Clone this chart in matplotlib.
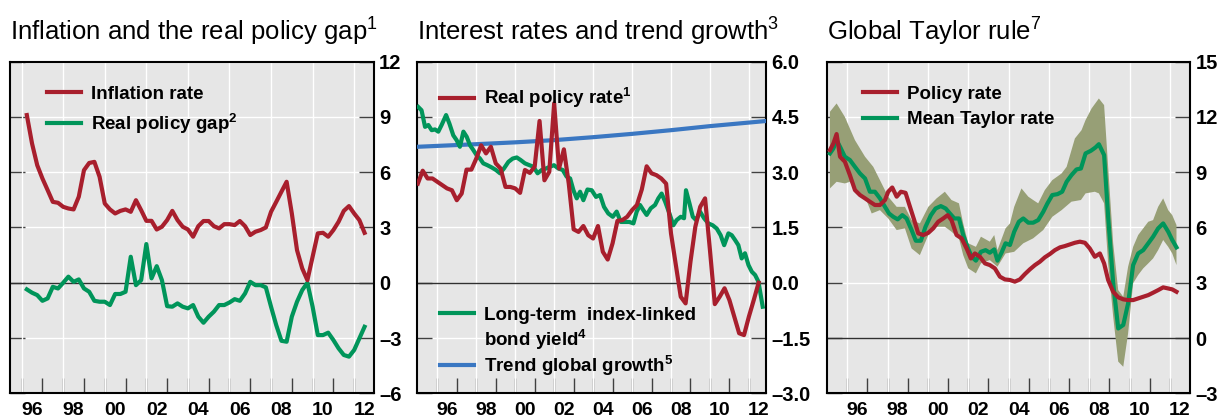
import matplotlib
matplotlib.use("Agg")
import matplotlib.pyplot as plt
import numpy as np
from matplotlib.lines import Line2D
from matplotlib.ticker import FuncFormatter

plt.rcParams['font.family'] = ['Liberation Sans', 'DejaVu Sans']
plt.rcParams['font.weight'] = 'bold'
plt.rcParams['mathtext.fontset'] = 'custom'
plt.rcParams['mathtext.rm'] = 'Liberation Sans:weight=normal'
plt.rcParams['mathtext.bf'] = 'Liberation Sans:weight=bold'

RED = '#a81f2d'
GREEN = '#00955a'
BLUE = '#3a77c2'
BAND = '#979f76'
BG = '#e6e6e6'

# ---- panel 1: inflation and real policy gap (quarterly, from 1996Q2)
inflation = [9.1, 7.56, 6.38, 5.66, 5.03, 4.39, 4.34, 4.12, 4.03, 3.98,
             4.67, 6.11, 6.5, 6.56, 5.75, 4.3, 3.98, 3.76, 3.9, 3.98,
             3.85, 4.48, 3.94, 3.36, 3.36, 2.89, 3.04, 3.4, 3.9, 3.4,
             3.04, 2.89, 2.5, 3.07, 3.35, 3.35, 3.07, 2.95, 3.18, 3.18,
             3.13, 3.35, 3.07, 2.59, 2.77, 2.86, 3.0, 3.85, 4.39, 4.94,
             5.48, 3.76, 1.77, 0.78, 0.14, 1.41, 2.68, 2.71, 2.5, 2.86,
             3.31, 3.9, 4.16, 3.76, 3.4, 2.71]
policy_gap = [-0.36, -0.54, -0.67, -0.98, -0.85, -0.22, -0.31, 0.0, 0.33, 0.05,
              0.18, -0.31, -0.49, -0.98, -1.03, -1.03, -1.21, -0.61, -0.61, -0.49,
              1.41, -0.13, 0.14, 2.1, 0.24, 0.9, 0.14, -1.27, -1.3, -1.12,
              -1.3, -1.39, -1.21, -1.84, -2.17, -1.84, -1.57, -1.21, -1.21, -1.07,
              -0.89, -0.98, -0.58, 0.05, -0.13, -0.13, -0.25, -1.3, -2.3, -3.15,
              -3.2, -1.84, -1.03, -0.4, 0.0, -1.3, -2.84, -2.84, -2.71, -3.11,
              -3.56, -3.92, -4.01, -3.65, -3.02, -2.39]
quarters1 = 1996.25 + 0.25 * np.arange(len(inflation))

# ---- panel 2: interest rates and trend growth
real_policy = [2.69, 3.04, 2.83, 2.83, 2.74, 2.65, 2.56, 2.51, 2.24, 2.42,
               3.07, 3.07, 3.37, 3.73, 3.51, 3.69, 3.24, 3.1, 2.6, 2.6,
               2.56, 2.44, 3.06, 2.98, 3.15, 4.39, 2.78, 3.01, 4.87, 3.1,
               3.62, 2.69, 1.45, 1.38, 1.54, 1.29, 1.2, 1.54, 0.84, 0.63,
               1.07, 1.68, 1.7, 1.79, 1.97, 2.11, 2.53, 3.16, 2.97, 2.92,
               2.83, 2.69, 1.34, 0.48, -0.38, -0.56, 0.57, 1.52, 2.06, 2.29,
               0.89, -0.58, -0.38, -0.15, -0.47, -0.92, -1.37, -1.42, -0.92, -0.47,
               0.0]
quarters2 = 1995.0 + 0.25 * np.arange(len(real_policy))

bond_years = [1995.02, 1995.19, 1995.37, 1995.54, 1995.71, 1995.88, 1996.05, 1996.22,
              1996.45, 1996.62, 1996.82, 1996.99, 1997.16, 1997.34, 1997.51, 1997.68,
              1997.85, 1998.02, 1998.19, 1998.36, 1998.57, 1998.79, 1999.01, 1999.22,
              1999.42, 1999.65, 1999.87, 2000.08, 2000.28, 2000.5, 2000.73, 2000.93,
              2001.15, 2001.36, 2001.58, 2001.79, 2001.99, 2002.22, 2002.44, 2002.64,
              2002.82, 2002.99, 2003.16, 2003.33, 2003.5, 2003.71, 2003.93, 2004.15,
              2004.36, 2004.56, 2004.78, 2005.01, 2005.21, 2005.42, 2005.64, 2005.86,
              2006.07, 2006.24, 2006.41, 2006.58, 2006.75, 2006.96, 2007.18, 2007.35,
              2007.52, 2007.7, 2007.92, 2008.12, 2008.29, 2008.5, 2008.67, 2008.77,
              2008.95, 2009.12, 2009.29, 2009.49, 2009.7, 2009.92, 2010.14, 2010.35,
              2010.55, 2010.73, 2010.95, 2011.12, 2011.29, 2011.46, 2011.63, 2011.8,
              2011.98, 2012.15, 2012.32, 2012.49, 2012.71]
bond_yield = [4.77, 4.68, 4.23, 4.28, 4.14, 4.16, 4.1, 4.28,
              4.55, 4.32, 4.0, 3.87, 3.69, 4.1, 3.96, 3.73,
              3.6, 3.46, 3.37, 3.24, 3.19, 3.13, 3.06, 2.97,
              3.1, 3.28, 3.37, 3.4, 3.33, 3.24, 3.19, 3.15,
              2.97, 3.06, 3.1, 3.15, 3.19, 3.1, 3.06, 2.88,
              2.83, 2.51, 2.29, 2.47, 2.24, 2.53, 2.51, 2.33,
              2.38, 2.06, 1.88, 1.79, 1.93, 1.65, 1.65, 1.65,
              1.61, 1.93, 2.11, 1.97, 1.84, 2.02, 2.11, 2.29,
              2.42, 2.2, 1.88, 1.56, 1.7, 1.79, 1.75, 2.51,
              2.15, 1.79, 1.7, 1.93, 1.75, 1.61, 1.56, 1.47,
              1.29, 1.02, 1.34, 1.29, 1.16, 1.02, 0.66, 0.8,
              0.48, 0.3, 0.21, 0.03, -0.65]

trend_years = [1995.0, 1998.0, 2000.0, 2002.0, 2004.0, 2006.0, 2008.0, 2010.0, 2012.9]
trend_growth = [3.69, 3.76, 3.81, 3.87, 3.95, 4.04, 4.14, 4.25, 4.39]

# ---- panel 3: global Taylor rule
policy_years = [1995.14, 1995.31, 1995.47, 1995.64, 1995.88, 1996.13, 1996.38, 1996.63,
                1996.88, 1997.12, 1997.37, 1997.62, 1997.87, 1998.03, 1998.23, 1998.45,
                1998.66, 1998.89, 1999.11, 1999.32, 1999.52, 1999.77, 2000.02, 2000.26,
                2000.51, 2000.76, 2000.98, 2001.17, 2001.42, 2001.67, 2001.92, 2002.13,
                2002.33, 2002.58, 2002.83, 2003.07, 2003.32, 2003.57, 2003.82, 2004.07,
                2004.31, 2004.56, 2004.81, 2005.06, 2005.31, 2005.55, 2005.8, 2006.05,
                2006.3, 2006.55, 2006.79, 2007.04, 2007.29, 2007.54, 2007.79, 2008.03,
                2008.28, 2008.53, 2008.74, 2008.94, 2009.19, 2009.44, 2009.69, 2009.93,
                2010.18, 2010.43, 2010.68, 2010.93, 2011.17, 2011.42, 2011.67, 2011.92,
                2012.12, 2012.33]
policy_rate = [10.2, 10.56, 11.07, 9.84, 9.57, 8.84, 8.03, 7.76,
               7.58, 7.4, 7.22, 7.22, 7.49, 7.94, 8.17, 7.67,
               7.94, 7.88, 7.12, 6.4, 5.68, 5.59, 5.71, 5.95,
               6.31, 6.49, 6.67, 6.4, 5.59, 5.41, 4.86, 4.32,
               4.59, 4.41, 4.05, 3.96, 3.78, 3.33, 3.18, 3.15,
               3.06, 3.18, 3.47, 3.73, 3.96, 4.14, 4.38, 4.56,
               4.77, 4.92, 4.99, 5.08, 5.17, 5.23, 5.17, 4.86,
               4.41, 4.59, 4.05, 3.15, 2.51, 2.21, 2.1, 2.06,
               2.06, 2.15, 2.24, 2.33, 2.46, 2.6, 2.75, 2.69,
               2.64, 2.51]

taylor_years = [1995.14, 1995.31, 1995.47, 1995.68, 1995.88, 1996.13, 1996.38, 1996.63,
                1996.88, 1997.12, 1997.37, 1997.62, 1997.87, 1998.07, 1998.28, 1998.5,
                1998.73, 1998.94, 1999.19, 1999.4, 1999.65, 1999.88, 2000.15, 2000.38,
                2000.64, 2000.88, 2001.09, 2001.31, 2001.54, 2001.75, 2001.96, 2002.17,
                2002.38, 2002.63, 2002.86, 2003.07, 2003.29, 2003.45, 2003.65, 2003.85,
                2004.07, 2004.28, 2004.51, 2004.73, 2004.98, 2005.22, 2005.47, 2005.72,
                2005.93, 2006.17, 2006.43, 2006.66, 2006.88, 2007.12, 2007.37, 2007.59,
                2007.82, 2008.08, 2008.31, 2008.48, 2008.74, 2008.94, 2009.19, 2009.44,
                2009.69, 2009.93, 2010.18, 2010.43, 2010.68, 2010.93, 2011.17, 2011.42,
                2011.67, 2011.92, 2012.12, 2012.33]
taylor_rate = [10.02, 10.29, 10.74, 10.29, 9.84, 9.66, 9.29, 8.93,
               8.66, 7.94, 7.94, 7.58, 7.12, 6.76, 6.58, 6.44,
               6.67, 6.49, 5.86, 5.28, 5.28, 6.04, 6.67, 7.03,
               7.16, 7.03, 6.76, 6.49, 6.49, 5.59, 4.95, 4.41,
               4.2, 4.68, 4.77, 4.63, 4.81, 4.2, 4.63, 5.14,
               5.05, 5.77, 6.31, 6.49, 6.26, 6.26, 6.4, 6.85,
               7.31, 7.76, 7.81, 7.94, 8.48, 8.84, 9.15, 9.2,
               10.02, 10.16, 10.34, 10.52, 9.93, 6.58, 2.97, 0.52,
               0.71, 1.88, 3.96, 4.59, 4.77, 5.14, 5.5, 5.95,
               6.22, 5.77, 5.32, 4.92]

band_hi_years = [1995.14, 1995.47, 1995.88, 1996.38, 1996.88, 1997.29, 1997.62, 1998.03,
                 1998.45, 1998.86, 1999.19, 1999.6, 2000.02, 2000.43, 2000.84, 2001.17,
                 2001.54, 2001.75, 2002.0, 2002.38, 2002.63, 2003.07, 2003.29, 2003.45,
                 2003.85, 2004.07, 2004.28, 2004.64, 2004.98, 2005.22, 2005.47, 2005.8,
                 2006.17, 2006.63, 2006.88, 2007.29, 2007.62, 2007.82, 2008.12, 2008.48,
                 2008.74, 2008.94, 2009.19, 2009.44, 2009.69, 2009.93, 2010.18, 2010.43,
                 2010.68, 2010.93, 2011.17, 2011.42, 2011.67, 2011.92, 2012.12, 2012.33]
band_hi = [12.28, 12.73, 12.0, 10.74, 9.84, 9.29, 8.57, 7.67,
           7.12, 7.12, 6.4, 6.22, 7.12, 7.58, 7.94, 7.49,
           7.31, 6.22, 5.14, 4.95, 5.5, 5.23, 5.59, 4.77,
           5.95, 6.22, 7.12, 8.12, 7.67, 7.49, 7.31, 8.03,
           8.57, 8.93, 9.29, 10.83, 11.28, 11.83, 12.46, 13.0,
           12.64, 9.29, 5.14, 2.6, 2.24, 3.87, 4.95, 5.59,
           5.95, 6.31, 6.4, 7.12, 7.58, 6.94, 6.67, 6.13]
band_lo_years = [1995.14, 1995.47, 1995.88, 1996.13, 1996.38, 1996.88, 1997.21, 1997.62,
                 1998.03, 1998.45, 1998.86, 1999.19, 1999.6, 2000.02, 2000.43, 2000.84,
                 2001.17, 2001.54, 2001.75, 2002.0, 2002.38, 2002.63, 2003.07, 2003.45,
                 2003.85, 2004.28, 2004.73, 2005.22, 2005.72, 2006.17, 2006.63, 2007.12,
                 2007.59, 2007.82, 2008.28, 2008.48, 2008.74, 2008.94, 2009.19, 2009.44,
                 2009.69, 2009.93, 2010.18, 2010.43, 2010.68, 2010.93, 2011.17, 2011.42,
                 2011.67, 2011.92, 2012.12, 2012.33]
band_lo = [8.12, 8.48, 8.39, 8.48, 8.03, 7.67, 6.76, 6.94,
           6.49, 5.86, 5.95, 4.86, 4.5, 5.59, 6.04, 6.04,
           5.77, 5.41, 4.5, 3.78, 3.51, 4.05, 4.23, 3.87,
           4.59, 4.68, 5.14, 5.41, 5.86, 6.58, 6.94, 7.4,
           7.49, 7.85, 7.94, 7.85, 7.31, 4.05, 1.16, -1.28,
           -1.56, 0.25, 2.97, 3.42, 3.78, 4.05, 4.32, 4.77,
           5.32, 4.95, 4.59, 3.96]


def dash_fmt(decimals):
    def f(v, pos):
        s = f"{abs(v):.{decimals}f}"
        return ("\u2013" + s) if v < -1e-9 else s
    return FuncFormatter(f)


def style(ax, xlim, ylim, ystep, decimals, title):
    ax.set_facecolor(BG)
    ax.set_xlim(*xlim)
    ax.set_ylim(*ylim)
    for sp in ax.spines.values():
        sp.set_linewidth(1.5)
        sp.set_color('black')
    years = np.arange(1995, 2014)
    ax.set_xticks([y for y in years if xlim[0] + 0.05 < y < xlim[1]], minor=True)
    even = np.arange(1996, 2013, 2)
    ax.set_xticks(even + 0.5)
    ax.set_xticklabels([f"{y % 100:02d}" for y in even])
    for y in even:
        ax.axvline(y, color='white', lw=1, zorder=1)
    ax.tick_params(axis='x', which='major', length=0, pad=6.5, labelsize=14)
    ax.tick_params(axis='x', which='minor', direction='in', length=11,
                   width=1, color='#404040')
    ax.set_yticks(np.arange(ylim[0], ylim[1] + ystep / 2, ystep))
    ax.yaxis.set_major_formatter(dash_fmt(decimals))
    ax.yaxis.tick_right()
    ax.tick_params(axis='y', which='major', left=True, right=True,
                   labelleft=False, labelright=True, direction='in',
                   length=11, width=1, color='#404040', pad=4, labelsize=14.5)
    ax.yaxis.grid(True, color='white', lw=1, zorder=1)
    ax.set_axisbelow(True)
    ax.axhline(0, color='#303030', lw=1, zorder=1.5)
    ax.set_title(title, loc='left', fontsize=18.5, fontweight='normal', pad=16)


leg_kw = dict(loc='upper left', frameon=False, fontsize=13.5, handlelength=1.8,
              handletextpad=0.55, borderpad=0, borderaxespad=0)

fig = plt.figure(figsize=(12.19, 4.19), dpi=100)
ax1 = fig.add_axes([0.0082, 0.0613, 0.2982, 0.7916])
ax2 = fig.add_axes([0.3423, 0.0613, 0.2861, 0.7916])
ax3 = fig.add_axes([0.6782, 0.0613, 0.2980, 0.7916])

# panel 1
style(ax1, (1995.44, 2012.93), (-6, 12), 3, 0,
      "Inflation and the real policy gap$^{1}$")
ax1.plot(quarters1, policy_gap, color=GREEN, lw=3, zorder=3,
         label="Real policy gap$^{\\mathbf{2}}$")
ax1.plot(quarters1, inflation, color=RED, lw=3, zorder=4, label="Inflation rate")
h, l = ax1.get_legend_handles_labels()
ax1.legend(h[::-1], l[::-1], bbox_to_anchor=(0.102, 0.928), labelspacing=0.45, **leg_kw)

# panel 2
style(ax2, (1994.97, 2012.88), (-3, 6), 1.5, 1,
      "Interest rates and trend growth$^{3}$")
l_blue, = ax2.plot(trend_years, trend_growth, color=BLUE, lw=3, zorder=3)
l_green, = ax2.plot(bond_years, bond_yield, color=GREEN, lw=3, zorder=3.5)
l_red, = ax2.plot(quarters2, real_policy, color=RED, lw=3, zorder=4)
leg_a = ax2.legend([l_red], ["Real policy rate$^{\\mathbf{1}}$"],
                   bbox_to_anchor=(0.065, 0.928), **leg_kw)
ax2.add_artist(leg_a)
no_key = Line2D([], [], color='none')
leg_b = ax2.legend([l_green, no_key],
                   ["Long-term  index-linked", "bond yield$^{\\mathbf{4}}$"],
                   bbox_to_anchor=(0.065, 0.261), labelspacing=0.2, **leg_kw)
ax2.add_artist(leg_b)
ax2.legend([l_blue], ["Trend global growth$^{\\mathbf{5}}$"],
           bbox_to_anchor=(0.065, 0.122), **leg_kw)

# panel 3
style(ax3, (1994.98, 2013.0), (-3, 15), 3, 0, "Global Taylor rule$^{7}$")
ax3.fill(np.r_[band_hi_years, band_lo_years[::-1]], np.r_[band_hi, band_lo[::-1]],
         color=BAND, lw=0, zorder=2)
ax3.plot(taylor_years, taylor_rate, color=GREEN, lw=3, zorder=3, label="Mean Taylor rate")
ax3.plot(policy_years, policy_rate, color=RED, lw=3, zorder=4, label="Policy rate")
h, l = ax3.get_legend_handles_labels()
ax3.legend(h[::-1], l[::-1], bbox_to_anchor=(0.1, 0.928), labelspacing=0.45, **leg_kw)

fig.savefig("out.png", dpi=100)
